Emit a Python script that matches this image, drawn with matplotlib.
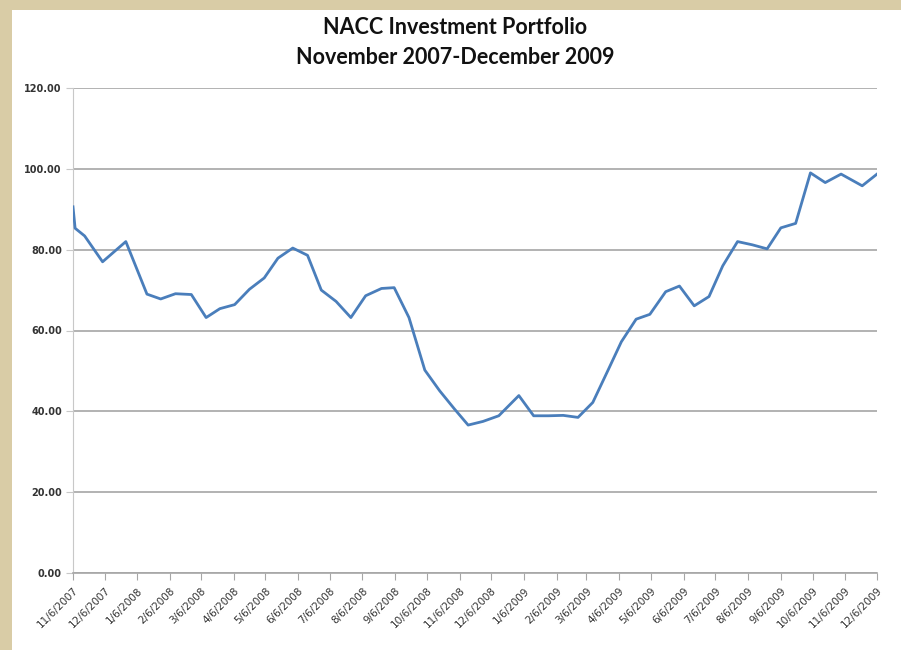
import matplotlib.pyplot as plt
from matplotlib.patches import Rectangle
import pandas as pd

# biweekly portfolio value readings
dates = [
    "2007-11-06", "2007-11-08", "2007-11-17", "2007-12-04", "2007-12-26",
    "2008-01-15", "2008-01-28", "2008-02-11", "2008-02-26", "2008-03-11",
    "2008-03-24", "2008-04-07", "2008-04-21", "2008-05-05", "2008-05-18",
    "2008-06-01", "2008-06-15", "2008-06-28", "2008-07-12", "2008-07-26",
    "2008-08-09", "2008-08-24", "2008-09-05", "2008-09-19", "2008-10-04",
    "2008-10-18", "2008-11-01", "2008-11-14", "2008-11-28", "2008-12-13",
    "2009-01-01", "2009-01-15", "2009-01-29", "2009-02-12", "2009-02-26",
    "2009-03-12", "2009-03-27", "2009-04-08", "2009-04-22", "2009-05-05",
    "2009-05-20", "2009-06-02", "2009-06-16", "2009-06-30", "2009-07-13",
    "2009-07-27", "2009-08-10", "2009-08-24", "2009-09-06", "2009-09-20",
    "2009-10-04", "2009-10-18", "2009-11-02", "2009-11-22", "2009-12-06",
]
values = [
    90.6, 85.3, 83.4, 77.0, 82.0, 69.0, 67.8, 69.1, 68.9, 63.2,
    65.4, 66.4, 70.2, 73.0, 77.9, 80.4, 78.6, 70.0, 67.2, 63.2,
    68.6, 70.4, 70.6, 63.2, 50.2, 45.1, 40.6, 36.6, 37.5, 38.9,
    43.9, 38.9, 38.9, 39.0, 38.5, 42.2, 50.5, 57.2, 62.8, 64.0,
    69.6, 71.0, 66.1, 68.4, 76.0, 82.0, 81.2, 80.2, 85.4, 86.5,
    99.0, 96.6, 98.7, 95.8, 98.7,
]

tick_labels = [
    "11/6/2007", "12/6/2007", "1/6/2008", "2/6/2008", "3/6/2008", "4/6/2008",
    "5/6/2008", "6/6/2008", "7/6/2008", "8/6/2008", "9/6/2008", "10/6/2008",
    "11/6/2008", "12/6/2008", "1/6/2009", "2/6/2009", "3/6/2009", "4/6/2009",
    "5/6/2009", "6/6/2009", "7/6/2009", "8/6/2009", "9/6/2009", "10/6/2009",
    "11/6/2009", "12/6/2009",
]
y_ticks = [0, 20, 40, 60, 80, 100, 120]

x = pd.to_datetime(dates)
tick_pos = pd.to_datetime(tick_labels, format="%m/%d/%Y")

fig = plt.figure(figsize=(9.01, 6.5), dpi=100, facecolor="#d9cca6")
# white card over the beige page, leaving the left and top strips
fig.patches.append(Rectangle((12 / 901, 0), 1, 1 - 10 / 650,
                             transform=fig.transFigure, facecolor="white",
                             edgecolor="none", zorder=-1))

ax = fig.add_axes([73 / 901, 1 - 573 / 650, (877 - 73) / 901, (573 - 88) / 650])
ax.set_zorder(2)
ax.set_facecolor("white")

ax.plot(x, values, color="#4a7ebb", linewidth=2, zorder=3)

ax.set_xlim(tick_pos[0], tick_pos[-1])
ax.set_ylim(0, 120)
ax.set_yticks(y_ticks)
ax.set_yticklabels([f"{v:.2f}" for v in y_ticks], fontsize=7,
                   fontweight="bold", color="#333333")
ax.set_xticks(tick_pos)
ax.set_xticklabels(tick_labels, rotation=45, ha="right",
                   rotation_mode="anchor", fontsize=7.5, color="#333333")

ax.yaxis.grid(True, color="#a6a6a6", linewidth=1.2)
ax.set_axisbelow(True)
for side in ["top", "right"]:
    ax.spines[side].set_visible(False)
ax.spines["left"].set_color("#c8c8c8")
ax.spines["bottom"].set_color("#a6a6a6")
ax.spines["bottom"].set_linewidth(1.2)
ax.tick_params(axis="x", length=5, color="#a6a6a6", pad=4)
ax.tick_params(axis="y", length=5, color="#c8c8c8", pad=3)

fig.text(455 / 901, 1 - 28 / 650, "NACC Investment Portfolio",
         ha="center", va="center", fontsize=15.5, fontweight="bold",
         family="Lato", color="#111111")
fig.text(455 / 901, 1 - 58 / 650, "November 2007-December 2009",
         ha="center", va="center", fontsize=15.5, fontweight="bold",
         family="Lato", color="#111111")

fig.savefig("out.png", dpi=100, facecolor=fig.get_facecolor())
